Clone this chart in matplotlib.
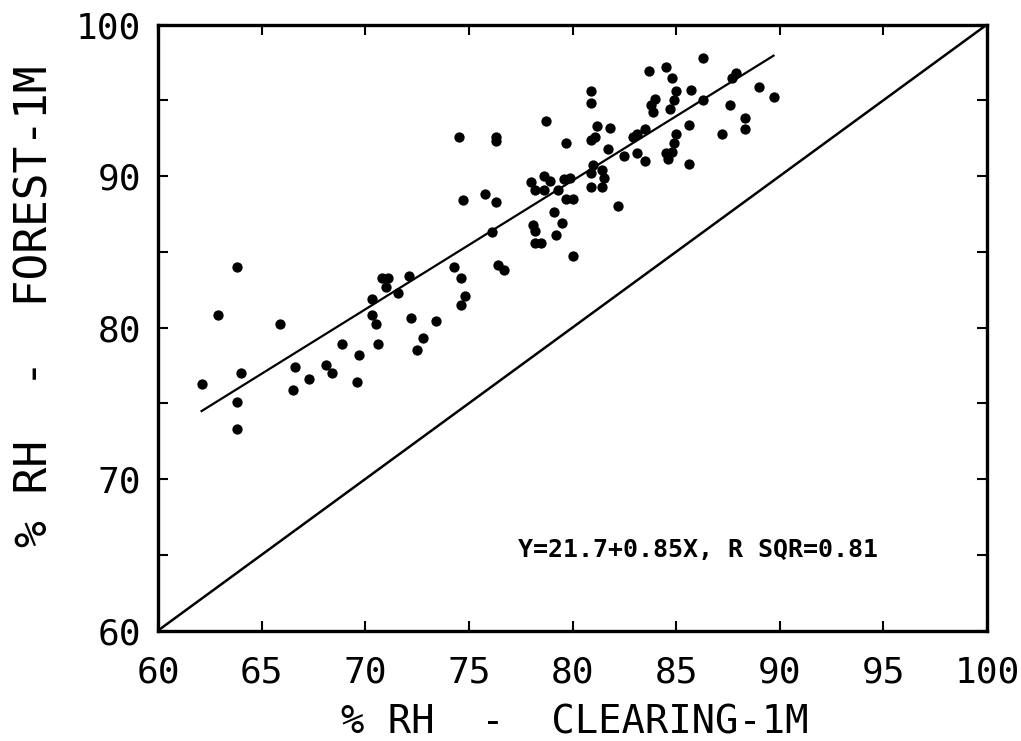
import numpy as np
import matplotlib.pyplot as plt
from matplotlib.ticker import MultipleLocator

# ===== data: % RH clearing (x) vs forest (y), 1 m =====
x_clear = [
    63.8, 62.9, 65.9, 68.9, 66.6, 68.1, 68.4, 67.3, 66.5, 64.0, 62.1, 63.8, 63.8,
    69.6, 69.7, 70.6, 70.5, 70.3, 70.3, 70.8, 71.1, 71.0, 72.1, 71.6, 72.2, 73.4,
    72.8, 72.5, 74.3, 74.6, 74.8, 74.6, 74.7, 75.8, 76.3, 76.1, 76.4, 76.7, 74.5,
    76.3, 76.3,
    78.7, 80.9, 80.9, 79.7, 81.2, 81.8, 81.1, 80.9, 81.7, 82.9, 83.1, 83.5, 82.5,
    83.1, 83.5, 84.0, 83.8, 83.9, 84.8, 85.0, 84.9, 84.7, 85.7, 86.3, 85.6, 85.0,
    84.9, 84.8, 84.5, 84.6, 85.6, 81.0, 81.4, 80.9, 81.5, 81.4, 80.9, 79.9, 79.6,
    79.3, 79.7, 80.0, 78.6, 78.9, 78.0, 78.2, 78.6, 82.2, 79.1, 79.5, 78.1, 78.2,
    79.2, 78.2, 78.5, 80.0,
    86.3, 87.9, 87.7, 89.0, 89.7, 87.6, 88.3, 88.3, 87.2, 83.7, 84.5,
]
y_forest = [
    84.0, 80.8, 80.2, 78.9, 77.4, 77.5, 77.0, 76.6, 75.9, 77.0, 76.3, 75.1, 73.3,
    76.4, 78.2, 78.9, 80.2, 80.8, 81.9, 83.3, 83.3, 82.7, 83.4, 82.3, 80.6, 80.4,
    79.3, 78.5, 84.0, 83.3, 82.1, 81.5, 88.4, 88.8, 88.3, 86.3, 84.1, 83.8, 92.6,
    92.6, 92.3,
    93.6, 95.6, 94.8, 92.2, 93.3, 93.2, 92.6, 92.4, 91.8, 92.6, 92.8, 93.1, 91.3,
    91.5, 91.0, 95.1, 94.7, 94.2, 96.5, 95.6, 95.0, 94.4, 95.7, 95.0, 93.4, 92.8,
    92.2, 91.6, 91.5, 91.1, 90.8, 90.7, 90.4, 90.2, 89.9, 89.3, 89.3, 89.9, 89.8,
    89.1, 88.5, 88.5, 90.0, 89.7, 89.6, 89.1, 89.1, 88.0, 87.6, 86.9, 86.8, 86.4,
    86.1, 85.6, 85.6, 84.7,
    97.8, 96.8, 96.5, 95.9, 95.2, 94.7, 93.8, 93.1, 92.8, 96.9, 97.2,
]

# regression reported on the chart
intercept, slope = 21.7, 0.85
fit_text = "Y=21.7+0.85X, R SQR=0.81"

x_ticks = [60, 65, 70, 75, 80, 85, 90, 95, 100]
y_ticks = [60, 70, 80, 90, 100]

plt.rcParams['font.family'] = ['DejaVu Sans Mono', 'DejaVu Sans']

fig = plt.figure(figsize=(10.21, 7.41), dpi=100)
ax = fig.add_axes([0.1548, 0.1491, 0.8119, 0.8178])

ax.scatter(x_clear, y_forest, s=55, color='black', linewidths=0, zorder=3)

# fitted line over the data range
xf = np.array([min(x_clear), max(x_clear)])
ax.plot(xf, intercept + slope * xf, color='black', lw=1.6)

# 1:1 line
ax.plot([60, 100], [60, 100], color='black', lw=1.8)

ax.set_xlim(60, 100)
ax.set_ylim(60, 100)
ax.set_xticks(x_ticks)
ax.set_yticks(y_ticks)
ax.yaxis.set_minor_locator(MultipleLocator(5))

ax.tick_params(which='both', direction='in', length=7, width=1.5,
               top=True, right=True, labelsize=26)
ax.tick_params(axis='x', pad=18)
ax.tick_params(axis='y', pad=12)

for sp in ax.spines.values():
    sp.set_linewidth(2.4)

ax.set_xlabel("% RH  -  CLEARING-1M", fontsize=28, va='center')
ax.xaxis.set_label_coords(0.503, -0.151)
ax.set_ylabel("% RH  -  FOREST-1M", fontsize=32, va='center')
ax.yaxis.set_label_coords(-0.148, 0.535)

ax.text(86.05, 65.35, fit_text, fontsize=18, fontweight='bold',
        ha='center', va='center')

fig.savefig('out.png', dpi=100)
